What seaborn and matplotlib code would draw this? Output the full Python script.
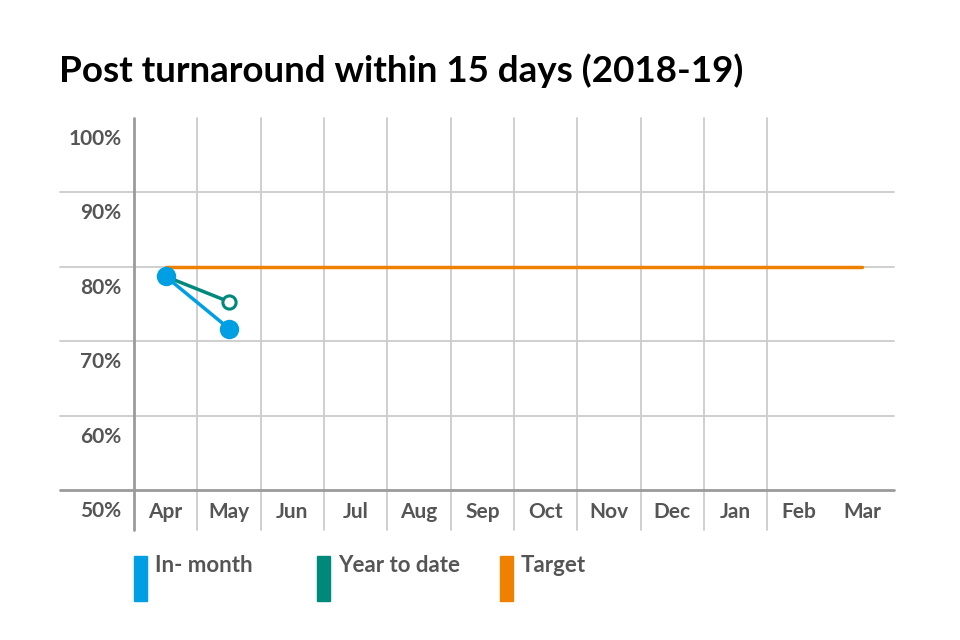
import numpy as np
import pandas as pd
import seaborn as sns
import matplotlib.pyplot as plt
from matplotlib.patches import Rectangle
from matplotlib.transforms import ScaledTranslation

months = ['Apr', 'May', 'Jun', 'Jul', 'Aug', 'Sep', 'Oct', 'Nov', 'Dec', 'Jan', 'Feb', 'Mar']
in_month = [78.7, 71.7]
year_to_date = [78.7, 75.3]
target = [80] * 12
y_ticks = [50, 60, 70, 80, 90, 100]

blue = '#009fe3'
teal = '#00897b'
orange = '#f08000'
grid_c = '#cccccc'
axis_c = '#9a9a9a'
text_c = '#555555'

sns.set_style('white')
plt.rcParams['font.family'] = ['Lato', 'DejaVu Sans']

df_in = pd.DataFrame({'x': np.arange(len(in_month)), 'v': in_month})
df_ytd = pd.DataFrame({'x': np.arange(len(year_to_date)), 'v': year_to_date})
df_t = pd.DataFrame({'x': np.arange(len(target)), 'v': target})

fig = plt.figure(figsize=(9.6, 6.4), dpi=100)
ax = fig.add_axes([134 / 960, 150 / 640, 760 / 960, 372 / 640])
ax.set_xlim(-0.5, 11.5)
ax.set_ylim(50, 100)

# grid, drawn by hand so it can run past the axes like the original
left_ext = -74 / 760
down_ext = -40 / 372
for v in y_ticks[1:-1]:
    ax.axhline(v, xmin=left_ext, xmax=1, color=grid_c, lw=1.3, clip_on=False, zorder=0)
ax.axhline(50, xmin=left_ext, xmax=1, color=axis_c, lw=2, clip_on=False, zorder=1)
for i in range(len(months) - 1):
    ax.axvline(i - 0.5, ymin=down_ext, ymax=1, color=axis_c if i == 0 else grid_c,
               lw=2 if i == 0 else 1.3, clip_on=False, zorder=0)
for s in ax.spines.values():
    s.set_visible(False)

sns.lineplot(data=df_t, x='x', y='v', color=orange, lw=2.5, ax=ax, zorder=2)
sns.lineplot(data=df_ytd, x='x', y='v', color=teal, lw=2.5, ax=ax, zorder=3,
             marker='o', markersize=9.5, markerfacecolor='white', markeredgecolor=teal,
             markeredgewidth=2.2)
sns.lineplot(data=df_in, x='x', y='v', color=blue, lw=2.5, ax=ax, zorder=4,
             marker='o', markersize=14, markeredgewidth=0)

ax.set_xticks(np.arange(len(months)))
ax.set_xticklabels(months)
ax.set_yticks(y_ticks)
ax.set_yticklabels([f'{v}%' for v in y_ticks])
ax.tick_params(axis='both', length=0, labelsize=15, labelcolor=text_c)
ax.tick_params(axis='x', pad=9)
ax.tick_params(axis='y', pad=9)
for lab in ax.get_xticklabels() + ax.get_yticklabels():
    lab.set_fontweight('bold')
for lab in ax.get_yticklabels():
    lab.set_transform(lab.get_transform() + ScaledTranslation(0, -0.19, fig.dpi_scale_trans))
ax.set_xlabel('')
ax.set_ylabel('')
ax.grid(False)

fig.text(59 / 960, 1 - 71 / 640, 'Post turnaround within 15 days (2018-19)', fontsize=26.5,
         fontweight='bold', color='black', va='center', ha='left')

legend = [('In- month', blue, 134), ('Year to date', teal, 317), ('Target', orange, 500)]
for label, col, x0 in legend:
    fig.add_artist(Rectangle((x0 / 960, 1 - 601 / 640), 13 / 960, 45 / 640,
                             transform=fig.transFigure, color=col))
    fig.text((x0 + 21) / 960, 1 - 565 / 640, label, fontsize=16, fontweight='bold',
             color=text_c, va='center', ha='left')

fig.savefig('out.png', dpi=100)
